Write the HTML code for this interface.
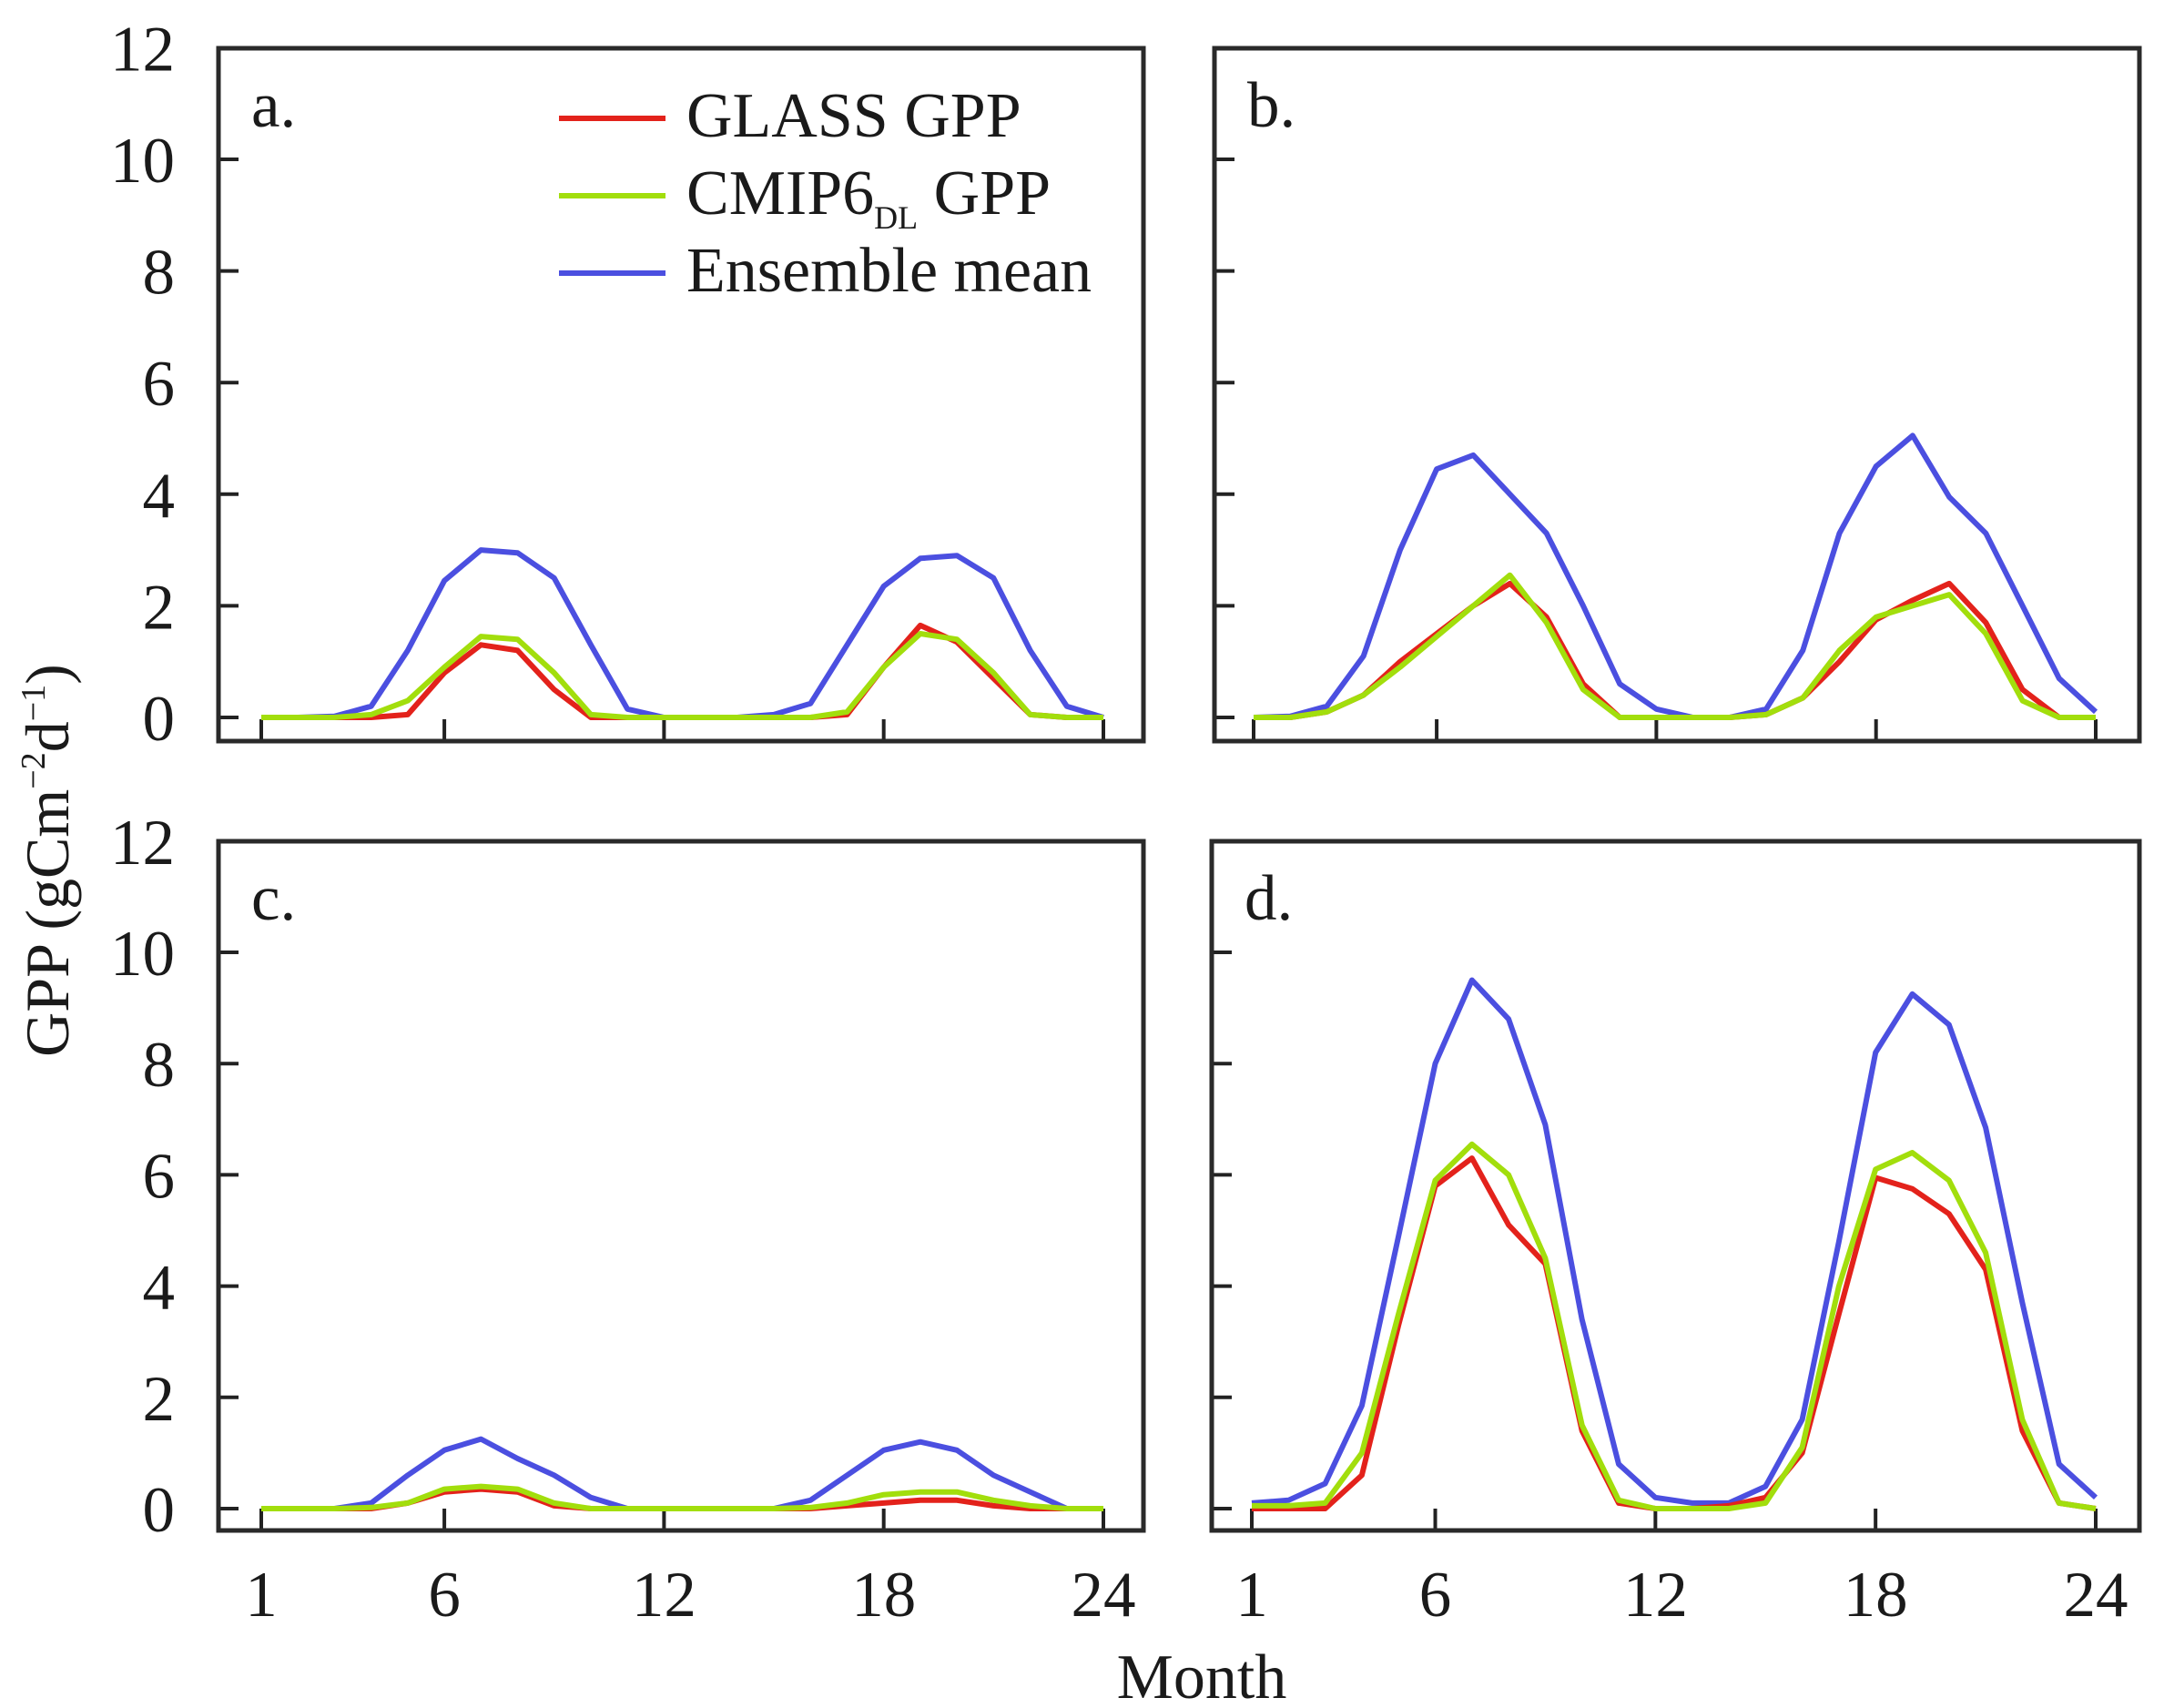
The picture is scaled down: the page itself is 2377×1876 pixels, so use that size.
<!DOCTYPE html>
<html><head><meta charset="utf-8"><style>
html,body{margin:0;padding:0;background:#fff}
svg{display:block}
text{font-family:"Liberation Serif",serif;fill:#1a1a1a}
</style></head><body>
<svg id="chart" width="2377" height="1876" viewBox="0 0 2377 1876" xmlns="http://www.w3.org/2000/svg"></svg>
<script>
const months = [1,2,3,4,5,6,7,8,9,10,11,12,13,14,15,16,17,18,19,20,21,22,23,24];
const xTickLabels = [1,6,12,18,24];
const yTickLabels = [0,2,4,6,8,10,12];
const panelNames = ["a.","b.","c.","d."];
const glassA = [0,0,0,0,0.05,0.8,1.3,1.2,0.5,0,0,0,0,0,0,0,0.05,0.9,1.65,1.35,0.7,0.05,0,0];
const cmipA  = [0,0,0,0.05,0.3,0.9,1.45,1.4,0.8,0.05,0,0,0,0,0,0,0.1,0.9,1.5,1.4,0.8,0.05,0,0];
const ensA   = [0,0,0.02,0.2,1.2,2.45,3.0,2.95,2.5,1.3,0.15,0,0,0,0.05,0.25,1.3,2.35,2.85,2.9,2.5,1.2,0.2,0];
const glassB = [0,0,0.1,0.4,1.0,1.5,2.0,2.4,1.8,0.6,0,0,0,0,0.05,0.35,1.0,1.75,2.1,2.4,1.7,0.5,0,0];
const cmipB  = [0,0,0.1,0.4,0.9,1.45,2.0,2.55,1.7,0.5,0,0,0,0,0.05,0.35,1.2,1.8,2.0,2.2,1.5,0.3,0,0];
const ensB   = [0,0.02,0.2,1.1,3.0,4.45,4.7,4.0,3.3,2.0,0.6,0.15,0,0,0.15,1.2,3.3,4.5,5.05,3.95,3.3,2.0,0.7,0.1];
const glassC = [0,0,0,0,0.1,0.3,0.35,0.3,0.05,0,0,0,0,0,0,0,0.05,0.1,0.15,0.15,0.05,0,0,0];
const cmipC  = [0,0,0,0.02,0.1,0.35,0.4,0.35,0.1,0,0,0,0,0,0,0.02,0.1,0.25,0.3,0.3,0.15,0.05,0,0];
const ensC   = [0,0,0,0.1,0.6,1.05,1.25,0.9,0.6,0.2,0,0,0,0,0,0.15,0.6,1.05,1.2,1.05,0.6,0.3,0,0];
const glassD = [0,0,0,0.6,3.3,5.8,6.3,5.1,4.4,1.4,0.1,0,0,0.05,0.2,1.0,3.5,5.95,5.75,5.3,4.3,1.4,0.1,0];
const cmipD  = [0.05,0.05,0.1,1.0,3.5,5.9,6.55,6.0,4.5,1.5,0.15,0,0,0,0.1,1.1,4.0,6.1,6.4,5.9,4.6,1.6,0.1,0];
const ensD   = [0.1,0.15,0.45,1.85,4.9,8.0,9.5,8.8,6.9,3.4,0.8,0.2,0.1,0.1,0.4,1.6,4.8,8.2,9.25,8.7,6.85,3.7,0.8,0.2];

const NS="http://www.w3.org/2000/svg";
const svg=document.getElementById('chart');
function mk(tag,attrs,parent){const e=document.createElementNS(NS,tag);for(const k in attrs)e.setAttribute(k,attrs[k]);(parent||svg).appendChild(e);return e;}

const panels=[
 {name:"a",L:240,R:1256,T:53,B:814,x1:287,x24:1212,y0:788,yu:61.3,glass:glassA,cmip:cmipA,ens:ensA,ylab:true,xlab:false},
 {name:"b",L:1334,R:2350,T:53,B:814,x1:1377,x24:2302,y0:788,yu:61.3,glass:glassB,cmip:cmipB,ens:ensB,ylab:false,xlab:false},
 {name:"c",L:240,R:1256,T:924,B:1681,x1:287,x24:1212,y0:1657,yu:61.1,glass:glassC,cmip:cmipC,ens:ensC,ylab:true,xlab:true},
 {name:"d",L:1331,R:2350,T:924,B:1681,x1:1375,x24:2302,y0:1657,yu:61.1,glass:glassD,cmip:cmipD,ens:ensD,ylab:false,xlab:true}
];
const colors={glass:"#e3221b",cmip:"#a2de0c",ens:"#4b4fe0"};

panels.forEach((p,i)=>{
  const g=mk('g',{});
  
  
  const xs=m=>p.x1+(m-1)*(p.x24-p.x1)/23;
  const ys=v=>p.y0-v*p.yu;
  yTickLabels.forEach(v=>{
    if(v<12){const t=mk('line',{x1:p.L,x2:p.L+22,y1:ys(v),y2:ys(v),stroke:"#222","stroke-width":4},g);
    }
    if(p.ylab){const tx=mk('text',{x:192,y:ys(v)+25,"text-anchor":"end","font-size":71},g);
      tx.textContent=v;}
  });
  xTickLabels.forEach(m=>{
    const t=mk('line',{x1:xs(m),x2:xs(m),y1:p.B,y2:p.B-24,stroke:"#222","stroke-width":4},g);
    
    if(p.xlab){const tx=mk('text',{x:xs(m),y:1775,"text-anchor":"middle","font-size":71},g);
      tx.textContent=m;}
  });
  [["ens","ensemble-mean-line"],["glass","glass-gpp-line"],["cmip","cmip6-gpp-line"]].forEach(([k,nm])=>{
    const pts=p[k].map((v,j)=>xs(months[j]).toFixed(1)+","+ys(v).toFixed(1)).join(" ");
    const pl=mk('polyline',{points:pts,fill:"none",stroke:colors[k],"stroke-width":6,"stroke-linejoin":"round"},g);
    
  });
  const fr=mk('rect',{x:p.L,y:p.T,width:p.R-p.L,height:p.B-p.T,fill:"none",stroke:"#2a2a2a","stroke-width":5},g);
  
  const lb=mk('text',{x:p.L+36,y:p.T+86,"font-size":71},g);
  lb.textContent=panelNames[i];
});
</script>
<svg style="position:absolute;left:0;top:0" width="2377" height="1876" xmlns="http://www.w3.org/2000/svg">
  <g>
    <g>
      <line x1="614" y1="130" x2="731" y2="130" stroke="#e3221b" stroke-width="6"/>
      <text x="754" y="150" font-size="70">GLASS GPP</text>
    </g>
    <g>
      <line x1="614" y1="215" x2="731" y2="215" stroke="#a2de0c" stroke-width="6"/>
      <text x="754" y="235" font-size="70">CMIP6<tspan font-size="36" dy="16">DL</tspan><tspan dy="-16"> GPP</tspan></text>
    </g>
    <g>
      <line x1="614" y1="300" x2="731" y2="300" stroke="#4b4fe0" stroke-width="6"/>
      <text x="754" y="320" font-size="70">Ensemble mean</text>
    </g>
  </g>
  <text x="1320" y="1865" text-anchor="middle" font-size="70">Month</text>
  <text transform="translate(75,945) rotate(-90)" text-anchor="middle" font-size="68">GPP (gCm<tspan font-size="38" dy="-26">−2</tspan><tspan dy="26">d</tspan><tspan font-size="38" dy="-26">−1</tspan><tspan dy="26">)</tspan></text>
</svg>
</body></html>
